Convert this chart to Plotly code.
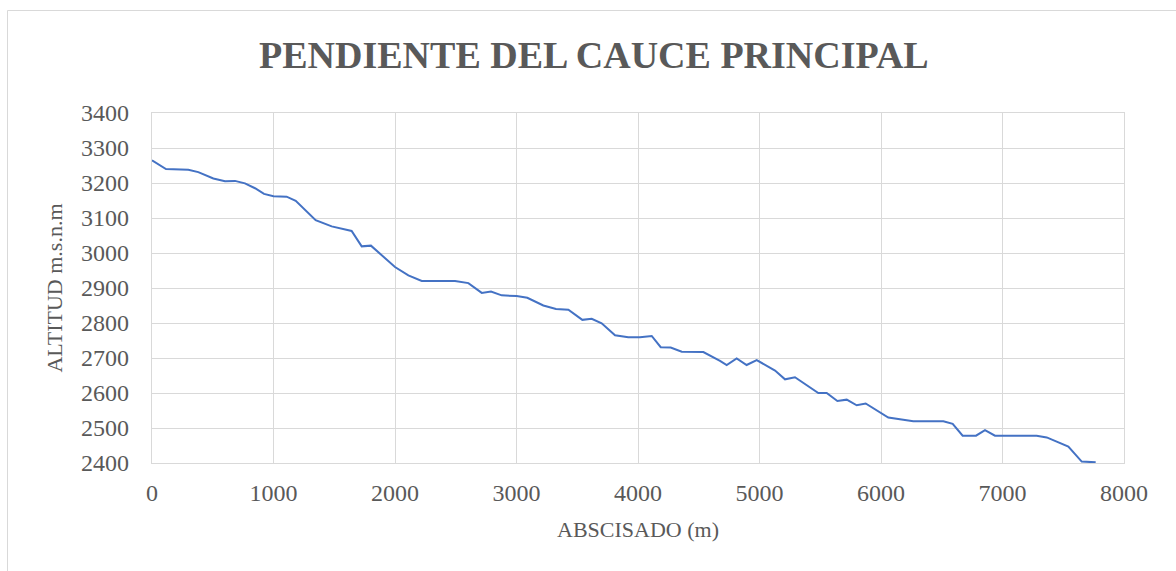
import plotly.graph_objects as go

abscisado = [0, 115, 299, 381, 505, 601, 683, 765, 848, 922, 1000, 1108, 1183, 1273, 1347,
             1479, 1643, 1726, 1802, 2000, 2110, 2220, 2370, 2494, 2604, 2714, 2790, 2878,
             3001, 3089, 3221, 3325, 3427, 3542, 3619, 3701, 3811, 3920, 4016, 4113, 4187,
             4269, 4360, 4538, 4675, 4730, 4812, 4894, 4977, 5128, 5210, 5292, 5484, 5553,
             5641, 5718, 5800, 5874, 6060, 6156, 6266, 6513, 6590, 6672, 6782, 6856, 6938,
             7281, 7364, 7446, 7542, 7652, 7767]
altitud = [3265, 3240, 3238, 3231, 3213, 3205, 3206, 3199, 3185, 3169, 3162, 3161, 3149,
           3120, 3094, 3076, 3063, 3019, 3021, 2960, 2936, 2920, 2920, 2920, 2914, 2886,
           2890, 2879, 2877, 2872, 2850, 2840, 2838, 2809, 2812, 2799, 2765, 2759, 2759,
           2763, 2731, 2730, 2718, 2717, 2692, 2680, 2699, 2680, 2694, 2664, 2639, 2645,
           2600, 2600, 2577, 2581, 2565, 2570, 2530, 2524, 2519, 2519, 2512, 2478, 2478,
           2494, 2478, 2478, 2473, 2461, 2447, 2404, 2402]

title_text = "PENDIENTE DEL CAUCE PRINCIPAL"
x_title = "ABSCISADO (m)"
y_title = "ALTITUD m.s.n.m"

grey = "#595959"
grid = "#d9d9d9"
font = "Liberation Serif"

fig = go.Figure()
fig.add_trace(go.Scatter(x=abscisado, y=altitud, mode="lines",
                         line=dict(color="#4472C4", width=2), hoverinfo="x+y"))

fig.update_layout(
    width=1176, height=571,
    margin=dict(l=152, r=52, t=113, b=108),
    paper_bgcolor="white", plot_bgcolor="white",
    showlegend=False,
    title=dict(text="<b>" + title_text + "</b>", x=0.505, xanchor="center",
               y=1 - 55 / 571, yanchor="middle",
               font=dict(family=font, size=38, color=grey)),
    font=dict(family=font, color=grey),
    xaxis=dict(range=[0, 8000], dtick=1000, showgrid=True, gridcolor=grid, gridwidth=1.3,
               zeroline=False, showline=True, linecolor=grid, linewidth=1.3, mirror=True,
               ticks="", tickfont=dict(size=24, color=grey), ticklabelstandoff=8,
               title=dict(text=x_title, font=dict(size=22, color=grey), standoff=16)),
    yaxis=dict(range=[2400, 3400], dtick=100, showgrid=True, gridcolor=grid, gridwidth=1.3,
               zeroline=False, showline=True, linecolor=grid, linewidth=1.3, mirror=True,
               ticks="", tickfont=dict(size=24, color=grey), ticklabelstandoff=17,
               title=dict(text=y_title, font=dict(size=22, color=grey), standoff=12)),
    shapes=[dict(type="rect", xref="paper", yref="paper",
                 x0=(7.5 - 152) / 972, x1=(1190 - 152) / 972,
                 y0=(463 - 590) / 350, y1=(463 - 10.5) / 350,
                 line=dict(color="#d9d9d9", width=1), fillcolor="rgba(0,0,0,0)",
                 layer="below")],
)

fig.write_html("out.html", config={"displayModeBar": False},
               post_script="document.body.style.margin='0';document.body.style.padding='0';")
